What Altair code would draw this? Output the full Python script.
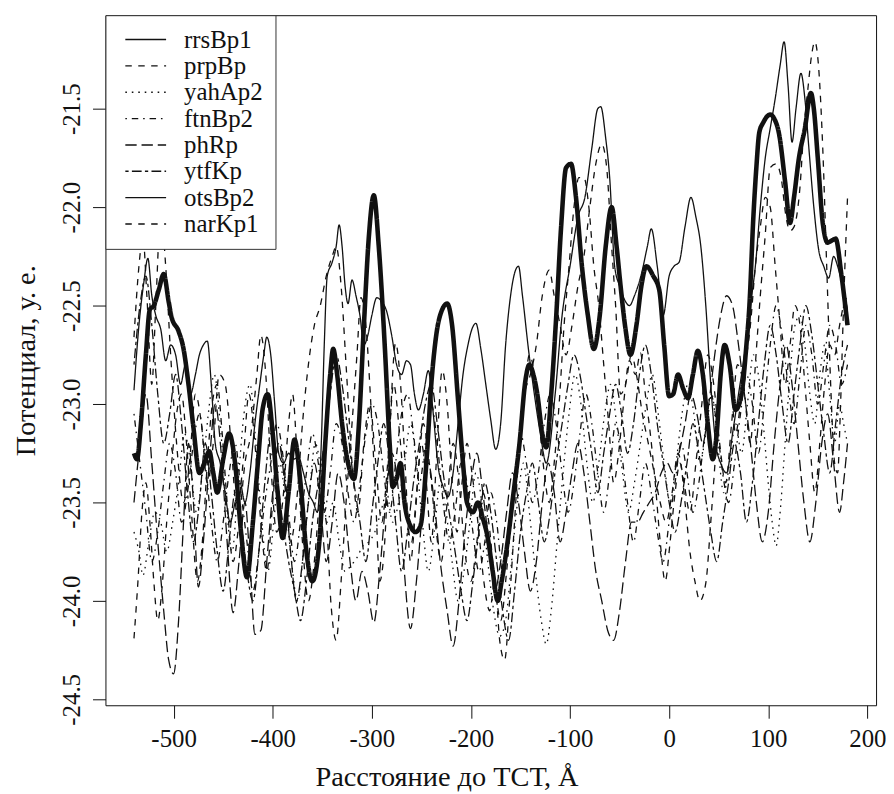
import altair as alt
import pandas as pd

series_names = ["rrsBp1", "prpBp", "yahAp2", "ftnBp2", "phRp", "ytfKp", "otsBp2", "narKp1"]
dash_styles = [[1, 0], [6.5, 6.5], [1.6, 4.9], [1.6, 4.9, 6.5, 4.9], [11.4, 4.9],
               [3.3, 3.3, 9.8, 3.3], [1, 0], [6.5, 6.5]]
thick_series = "otsBp2"

x_ticks = [-500, -400, -300, -200, -100, 0, 100, 200]
y_ticks = [-24.5, -24.0, -23.5, -23.0, -22.5, -22.0, -21.5]

rrsBp1 = [(-540,-22.93),(-535,-22.6),(-530,-22.38),(-526,-22.26),(-522,-22.45),(-518,-22.55),(-513,-22.62),
          (-508,-22.78),(-503,-22.7),(-498,-22.75),(-493,-22.9),(-488,-22.8),(-483,-22.95),(-478,-22.85),
          (-474,-22.75),(-470,-22.7),(-466,-22.68),(-462,-22.9),(-458,-23.2),(-453,-23.3),(-448,-23.45),
          (-443,-23.6),(-438,-23.5),(-433,-23.4),(-428,-23.5),(-423,-23.35),(-418,-23.1),(-413,-22.9),
          (-409,-22.75),(-406,-22.66),(-402,-22.75),(-398,-23.0),(-394,-23.25),(-389,-23.3),(-384,-23.25),
          (-379,-23.28),(-374,-23.27),(-369,-23.35),(-364,-23.45),(-359,-23.5),(-355,-23.55),(-351,-23.2),
          (-348,-22.7),(-345,-22.35),(-340,-22.28),(-336,-22.2),(-333,-22.09),(-330,-22.2),(-327,-22.4),
          (-324,-22.49),(-320,-22.37),(-316,-22.45),(-312,-22.55),(-308,-22.7),(-304,-22.65),(-300,-22.55),
          (-295,-22.46),(-290,-22.48),(-285,-22.53),(-280,-22.65),(-275,-22.8),(-270,-22.85),(-265,-22.78),
          (-261,-22.8),(-257,-22.95),(-253,-23.03),(-248,-22.95),(-243,-22.83),(-238,-23.05),(-233,-23.32),
          (-228,-23.42),(-223,-23.47),(-218,-23.35),(-213,-23.1),(-208,-22.85),(-203,-22.7),(-199,-22.62),
          (-195,-22.59),(-190,-22.72),(-185,-22.9),(-180,-23.08),(-175,-23.23),(-170,-23.1),(-165,-22.7),
          (-160,-22.45),(-155,-22.32),(-152,-22.3),(-148,-22.45),(-142,-22.72),(-136,-22.95),(-130,-23.15),
          (-124,-23.3),(-115,-22.95),(-108,-22.55),(-100,-22.3),(-92,-22.05),(-85,-21.95),(-78,-21.7),
          (-72,-21.5),(-69,-21.49),(-64,-21.65),(-60,-21.85),(-55,-22.3),(-50,-22.4),(-45,-22.47),
          (-40,-22.5),(-35,-22.45),(-28,-22.34),(-22,-22.2),(-18,-22.11),(-12,-22.3),(-6,-22.55),(0,-22.35),
          (5,-22.3),(10,-22.28),(16,-22.1),(22,-21.95),(27,-22.05),(32,-22.2),(37,-22.5),(42,-22.9),
          (47,-23.2),(52,-23.3),(58,-23.35),(64,-23.15),(70,-22.95),(76,-22.75),(82,-22.5),(87,-22.3),
          (92,-22.0),(97,-21.75),(102,-21.6),(107,-21.45),(112,-21.28),(116,-21.16),(120,-21.38),
          (124,-21.67),(128,-21.5),(133,-21.32),(137,-21.45),(141,-21.7),(146,-22.0),(151,-22.22),
          (156,-22.3),(161,-22.36),(166,-22.25),(170,-22.3),(175,-22.4),(180,-22.52)]

prpBp = [(-540,-24.19),(-536,-23.9),(-532,-23.55),(-528,-23.4),(-524,-23.6),(-520,-23.9),(-516,-24.1),
         (-512,-23.95),(-507,-23.6),(-502,-23.3),(-497,-23.05),(-492,-22.95),(-487,-23.2),(-482,-23.55),
         (-476,-23.9),(-471,-23.7),(-466,-23.3),(-461,-23.0),(-456,-22.9),(-451,-23.15),(-446,-23.5),
         (-440,-23.8),(-434,-23.6),(-428,-23.3),(-422,-23.15),(-416,-22.85),(-412,-22.65),(-407,-22.85),
         (-402,-23.3),(-396,-23.65),(-390,-23.5),(-384,-23.1),(-380,-22.95),(-375,-23.3),(-370,-23.7),
         (-364,-24.0),(-358,-23.8),(-352,-23.5),(-346,-23.6),(-341,-24.03),(-336,-24.2),(-331,-23.9),
         (-326,-23.5),(-320,-23.1),(-315,-22.75),(-311,-22.46),(-306,-22.6),(-301,-23.0),(-296,-23.5),
         (-292,-23.9),(-287,-23.7),(-282,-23.15),(-276,-22.69),(-271,-22.9),(-266,-23.35),(-261,-23.8),
         (-256,-23.55),(-250,-23.2),(-245,-23.4),(-240,-23.7),(-235,-23.3),(-229,-22.83),(-224,-23.0),
         (-219,-23.4),(-214,-23.65),(-209,-23.4),(-204,-23.2),(-199,-23.35),(-193,-23.6),(-187,-23.9),
         (-181,-24.05),(-176,-23.9),(-171,-24.2),(-166,-24.3),(-161,-24.0),(-156,-23.6),(-151,-23.2),
         (-146,-22.95),(-141,-22.75),(-136,-22.85),(-131,-23.1),(-126,-23.35),(-121,-23.5),(-116,-23.3),
         (-111,-23.0),(-106,-22.6),(-101,-22.3),(-96,-22.0),(-91,-21.85),(-86,-21.85),(-81,-22.0),
         (-76,-22.3),(-71,-22.5),(-66,-22.8),(-61,-23.1),(-56,-23.4),(-51,-23.25),(-46,-23.0),(-40,-22.78),
         (-34,-22.85),(-29,-22.74),(-24,-22.95),(-19,-23.15),(-14,-23.4),(-9,-23.7),(-4,-23.9),(1,-23.7),
         (6,-23.45),(11,-23.3),(16,-23.5),(21,-23.75),(26,-23.9),(31,-24.0),(37,-23.91),(42,-23.6),
         (47,-23.25),(52,-22.9),(57,-22.7),(62,-22.85),(67,-23.15),(72,-23.0),(77,-22.8),(82,-22.6),
         (87,-22.3),(92,-22.1),(97,-21.95),(102,-22.0),(107,-22.3),(112,-22.6),(117,-22.9),(122,-22.7),
         (127,-22.5),(132,-22.6),(137,-22.9),(142,-23.2),(147,-23.45),(152,-23.2),(157,-22.9),(162,-22.7),
         (167,-22.75),(172,-22.6),(176,-22.5),(180,-22.45)]

yahAp2 = [(-540,-23.65),(-535,-23.75),(-531,-23.87),(-525,-23.7),(-519,-23.55),(-513,-23.6),(-507,-23.75),
          (-501,-23.6),(-495,-23.4),(-489,-23.15),(-483,-23.3),(-477,-23.55),(-471,-23.35),(-465,-23.05),
          (-459,-22.85),(-453,-23.1),(-447,-23.5),(-441,-23.75),(-435,-23.4),(-429,-23.05),(-423,-22.9),
          (-417,-23.2),(-411,-23.6),(-405,-23.85),(-399,-23.6),(-393,-23.3),(-387,-23.5),(-381,-23.8),
          (-375,-24.0),(-369,-23.75),(-363,-23.45),(-357,-23.2),(-351,-23.35),(-345,-23.6),(-339,-23.5),
          (-333,-23.7),(-327,-23.85),(-321,-23.82),(-315,-23.78),(-309,-23.72),(-303,-23.7),(-297,-23.65),
          (-291,-23.55),(-285,-23.45),(-279,-23.6),(-273,-23.5),(-267,-23.3),(-261,-23.1),(-255,-23.3),
          (-249,-23.6),(-243,-23.85),(-237,-23.65),(-231,-23.4),(-225,-23.55),(-219,-23.8),(-213,-24.0),
          (-207,-23.85),(-201,-23.6),(-195,-23.35),(-189,-23.5),(-183,-23.8),(-177,-24.05),(-171,-24.18),
          (-165,-24.1),(-159,-23.8),(-153,-23.5),(-147,-23.3),(-141,-23.55),(-135,-23.85),(-129,-24.1),
          (-124,-24.22),(-119,-24.05),(-113,-23.7),(-107,-23.35),(-101,-23.05),(-95,-22.85),(-89,-23.0),
          (-83,-23.3),(-77,-23.5),(-71,-23.3),(-65,-23.05),(-59,-22.9),(-53,-23.1),(-47,-23.35),(-41,-23.55),
          (-35,-23.4),(-29,-23.2),(-23,-23.0),(-17,-22.85),(-11,-23.05),(-5,-23.3),(1,-23.5),(7,-23.3),
          (13,-23.05),(19,-22.9),(25,-23.05),(31,-23.3),(37,-23.15),(43,-22.95),(49,-23.2),(55,-23.45),
          (61,-23.3),(67,-23.1),(73,-23.25),(79,-23.0),(85,-22.75),(90,-22.85),(95,-23.1),(100,-23.4),
          (104,-23.6),(108,-23.72),(112,-23.55),(117,-23.2),(122,-22.85),(127,-22.6),(132,-22.55),
          (137,-22.7),(142,-22.95),(147,-23.1),(152,-22.85),(157,-22.7),(162,-22.95),(167,-23.2),
          (172,-23.0),(176,-23.1),(180,-23.2)]

ftnBp2 = [(-540,-23.05),(-534,-23.3),(-528,-23.55),(-522,-23.8),(-516,-23.65),(-510,-23.4),(-504,-23.2),
          (-498,-23.35),(-492,-23.6),(-486,-23.45),(-480,-23.2),(-474,-23.05),(-468,-23.3),(-462,-23.6),
          (-456,-23.8),(-450,-23.6),(-444,-23.35),(-438,-23.2),(-432,-23.45),(-426,-23.7),(-420,-23.95),
          (-414,-23.75),(-408,-23.5),(-402,-23.3),(-396,-23.1),(-390,-23.25),(-384,-23.55),(-378,-23.8),
          (-372,-23.6),(-366,-23.35),(-360,-23.15),(-354,-23.3),(-348,-23.55),(-342,-23.35),(-336,-23.1),
          (-330,-23.2),(-324,-23.45),(-318,-23.6),(-312,-23.4),(-306,-23.15),(-300,-23.0),(-294,-23.1),
          (-288,-23.35),(-282,-23.55),(-276,-23.3),(-270,-23.05),(-264,-22.95),(-258,-23.15),(-252,-23.4),
          (-246,-23.2),(-240,-23.0),(-234,-23.2),(-228,-23.5),(-222,-23.7),(-216,-23.55),(-210,-23.3),
          (-204,-23.4),(-198,-23.65),(-192,-23.85),(-186,-23.7),(-180,-23.45),(-174,-23.6),(-168,-23.85),
          (-162,-23.7),(-156,-23.4),(-150,-23.15),(-144,-23.3),(-138,-23.5),(-132,-23.35),(-126,-23.1),
          (-120,-22.95),(-114,-23.1),(-108,-23.35),(-102,-23.55),(-96,-23.4),(-90,-23.15),(-84,-22.95),
          (-78,-23.1),(-72,-23.35),(-66,-23.55),(-60,-23.35),(-54,-23.1),(-48,-23.25),(-42,-23.5),
          (-36,-23.7),(-30,-23.5),(-24,-23.3),(-18,-23.45),(-12,-23.65),(-6,-23.8),(0,-23.6),(6,-23.4),
          (12,-23.2),(18,-23.35),(24,-23.55),(30,-23.4),(36,-23.15),(42,-22.95),(48,-23.1),(54,-23.35),
          (60,-23.5),(66,-23.3),(72,-23.05),(78,-22.85),(84,-23.0),(90,-23.25),(96,-23.0),(102,-22.7),
          (108,-22.5),(114,-22.65),(120,-22.9),(126,-23.1),(132,-22.85),(138,-22.6),(144,-22.75),
          (150,-23.0),(156,-22.8),(162,-22.6),(168,-22.7),(174,-22.9),(180,-22.8)]

phRp = [(-540,-23.5),(-534,-23.2),(-528,-22.95),(-522,-23.3),(-516,-23.7),(-510,-24.05),(-505,-24.3),
        (-500,-24.37),(-495,-24.1),(-490,-23.6),(-485,-23.2),(-480,-23.5),(-475,-23.93),(-470,-23.7),
        (-464,-23.3),(-458,-23.0),(-452,-23.25),(-446,-23.7),(-440,-24.06),(-434,-23.8),(-428,-23.5),
        (-423,-23.8),(-418,-24.17),(-412,-24.15),(-406,-23.8),(-400,-23.45),(-394,-23.2),(-388,-23.4),
        (-382,-23.75),(-376,-24.0),(-370,-23.8),(-364,-23.5),(-358,-23.3),(-352,-23.5),(-346,-23.8),
        (-340,-23.6),(-334,-23.35),(-328,-23.5),(-322,-23.8),(-316,-24.0),(-310,-23.85),(-304,-23.95),
        (-298,-24.11),(-292,-23.85),(-286,-23.5),(-280,-23.25),(-274,-23.4),(-268,-23.8),(-261,-24.14),
        (-255,-23.9),(-249,-23.55),(-243,-23.3),(-237,-23.5),(-231,-23.8),(-224,-24.05),(-218,-24.23),
        (-212,-24.0),(-206,-23.65),(-200,-23.4),(-194,-23.25),(-188,-23.45),(-182,-23.7),(-176,-23.95),
        (-170,-23.8),(-164,-23.55),(-158,-23.35),(-152,-23.5),(-146,-23.75),(-140,-23.95),(-134,-23.8),
        (-128,-23.5),(-122,-23.3),(-116,-23.45),(-110,-23.7),(-104,-23.55),(-98,-23.35),(-92,-23.2),
        (-86,-23.35),(-80,-23.6),(-74,-23.85),(-68,-24.0),(-62,-24.15),(-56,-24.2),(-50,-24.05),
        (-44,-23.8),(-38,-23.6),(-32,-23.6),(-26,-23.55),(-20,-23.5),(-14,-23.45),(-8,-23.35),(-2,-23.3),
        (4,-23.35),(10,-23.25),(16,-23.1),(22,-22.95),(28,-23.05),(34,-23.2),(40,-23.0),(46,-22.75),
        (52,-22.55),(58,-22.45),(64,-22.5),(70,-22.7),(76,-22.95),(82,-23.2),(88,-23.5),(94,-23.7),
        (100,-23.55),(106,-23.2),(112,-22.9),(118,-22.7),(124,-22.9),(130,-23.2),(136,-23.5),(142,-23.7),
        (148,-23.5),(154,-23.2),(160,-23.05),(166,-23.3),(172,-23.55),(176,-23.4),(180,-23.2)]

ytfKp = [(-540,-22.8),(-534,-22.5),(-528,-22.35),(-522,-22.6),(-516,-22.95),(-510,-23.2),(-504,-23.05),
         (-498,-22.85),(-492,-23.1),(-486,-23.45),(-480,-23.7),(-474,-23.5),(-468,-23.2),(-462,-23.45),
         (-456,-23.75),(-450,-23.95),(-444,-23.7),(-438,-23.45),(-432,-23.6),(-426,-23.85),(-420,-24.0),
         (-414,-23.75),(-408,-23.4),(-402,-23.15),(-396,-23.35),(-390,-23.6),(-384,-23.8),(-378,-23.95),
         (-372,-24.1),(-366,-23.9),(-360,-23.6),(-354,-23.4),(-348,-23.2),(-342,-22.95),(-336,-22.75),
         (-330,-22.9),(-324,-23.15),(-318,-23.4),(-312,-23.6),(-306,-23.8),(-300,-23.55),(-294,-23.3),
         (-288,-23.1),(-282,-23.3),(-276,-23.6),(-270,-23.85),(-264,-23.65),(-258,-23.4),(-252,-23.2),
         (-246,-23.0),(-240,-22.9),(-234,-23.1),(-228,-23.35),(-222,-23.55),(-216,-23.75),(-210,-23.95),
         (-204,-24.1),(-198,-23.9),(-192,-23.65),(-186,-23.4),(-180,-23.55),(-174,-23.8),(-168,-24.05),
         (-162,-24.2),(-156,-23.95),(-150,-23.65),(-144,-23.45),(-138,-23.3),(-132,-23.5),(-126,-23.7),
         (-120,-23.55),(-114,-23.3),(-108,-23.1),(-102,-22.9),(-96,-22.75),(-90,-22.85),(-84,-23.05),
         (-78,-23.25),(-72,-23.45),(-66,-23.25),(-60,-23.05),(-54,-22.9),(-48,-23.05),(-42,-23.25),
         (-36,-23.1),(-30,-22.85),(-24,-22.7),(-18,-22.85),(-12,-23.1),(-6,-23.3),(0,-23.5),(6,-23.65),
         (12,-23.5),(18,-23.3),(24,-23.1),(30,-23.25),(36,-23.45),(42,-23.65),(48,-23.8),(54,-23.6),
         (60,-23.4),(66,-23.2),(72,-23.35),(78,-23.6),(84,-23.4),(90,-23.1),(96,-22.8),(102,-22.6),
         (108,-22.75),(114,-23.0),(120,-23.2),(126,-22.95),(132,-22.7),(138,-22.5),(144,-22.65),
         (150,-22.9),(156,-23.15),(162,-23.35),(168,-23.1),(174,-22.85),(180,-22.7)]

otsBp2 = [(-540,-23.25),(-537,-23.28),(-533,-23.1),(-528,-22.75),(-524,-22.52),(-520,-22.5),(-515,-22.42),
          (-510,-22.34),(-505,-22.48),(-502,-22.56),(-495,-22.63),(-490,-22.72),(-485,-22.9),(-480,-23.12),
          (-474,-23.35),(-469,-23.3),(-464,-23.24),(-460,-23.35),(-456,-23.45),(-450,-23.28),(-444,-23.15),
          (-438,-23.3),(-432,-23.65),(-426,-23.88),(-420,-23.6),(-415,-23.3),(-410,-23.02),(-405,-22.95),
          (-400,-23.15),(-395,-23.45),(-390,-23.68),(-384,-23.45),(-378,-23.18),(-372,-23.4),(-366,-23.75),
          (-360,-23.9),(-353,-23.7),(-347,-23.2),(-342,-22.85),(-339,-22.72),(-335,-22.85),(-330,-23.1),
          (-324,-23.3),(-318,-23.38),(-313,-23.1),(-308,-22.6),(-303,-22.15),(-298,-21.94),(-293,-22.2),
          (-287,-22.7),(-282,-23.2),(-279,-23.42),(-275,-23.38),(-271,-23.3),(-267,-23.5),(-261,-23.62),
          (-256,-23.65),(-251,-23.62),(-245,-23.3),(-240,-22.9),(-235,-22.65),(-229,-22.52),(-224,-22.49),
          (-219,-22.6),(-213,-22.98),(-208,-23.3),(-204,-23.5),(-198,-23.55),(-193,-23.5),(-188,-23.58),
          (-183,-23.68),(-178,-23.85),(-173,-24.0),(-169,-23.9),(-163,-23.7),(-157,-23.45),(-151,-23.2),
          (-145,-22.88),(-141,-22.8),(-137,-22.85),(-133,-22.95),(-128,-23.15),(-124,-23.22),(-119,-22.95),
          (-114,-22.56),(-109,-22.1),(-104,-21.8),(-99,-21.78),(-94,-21.95),(-88,-22.3),(-82,-22.55),
          (-76,-22.72),(-70,-22.55),(-64,-22.2),(-58,-22.0),(-53,-22.2),(-49,-22.4),(-44,-22.62),
          (-39,-22.75),(-33,-22.6),(-28,-22.4),(-23,-22.3),(-16,-22.35),(-10,-22.42),(-5,-22.7),(0,-22.96),
          (4,-22.95),(9,-22.85),(14,-22.92),(19,-22.97),(24,-22.85),(29,-22.73),(34,-22.85),(39,-23.1),
          (44,-23.28),(48,-23.15),(52,-22.85),(56,-22.7),(61,-22.8),(67,-23.03),(73,-22.95),(78,-22.7),
          (81,-22.5),(85,-22.05),(88,-21.8),(91,-21.62),(95,-21.57),(102,-21.53),(106,-21.55),(111,-21.63),
          (117,-21.87),(122,-22.08),(126,-21.95),(131,-21.75),(137,-21.6),(143,-21.42),(146,-21.5),
          (150,-21.75),(155,-22.08),(160,-22.18),(164,-22.17),(168,-22.16),(174,-22.35),(180,-22.6)]

narKp1 = [(-540,-22.66),(-535,-22.3),(-531,-22.15),(-527,-22.45),(-522,-22.9),(-518,-22.5),(-513,-22.03),
          (-508,-22.3),(-503,-22.75),(-497,-23.2),(-490,-23.5),(-484,-23.3),(-478,-22.95),(-472,-23.1),
          (-466,-23.4),(-460,-23.2),(-454,-22.85),(-448,-22.9),(-442,-23.2),(-436,-23.55),(-430,-23.3),
          (-424,-22.95),(-418,-23.2),(-412,-23.6),(-406,-23.85),(-400,-23.5),(-394,-23.2),(-388,-23.35),
          (-382,-23.7),(-376,-23.5),(-370,-23.1),(-364,-22.8),(-358,-22.6),(-352,-22.5),(-346,-22.35),
          (-340,-22.25),(-336,-22.2),(-331,-22.4),(-326,-22.8),(-320,-23.3),(-314,-23.55),(-308,-23.2),
          (-302,-23.0),(-296,-23.3),(-290,-23.6),(-284,-23.3),(-278,-22.9),(-272,-23.15),(-266,-23.5),
          (-260,-23.7),(-254,-23.4),(-248,-23.1),(-242,-23.3),(-236,-23.6),(-230,-23.8),(-224,-23.5),
          (-218,-23.2),(-212,-23.4),(-206,-23.75),(-200,-23.9),(-194,-23.7),(-188,-23.45),(-182,-23.6),
          (-176,-23.9),(-170,-24.1),(-164,-23.85),(-158,-23.5),(-152,-23.2),(-146,-22.95),(-140,-22.85),
          (-134,-22.7),(-128,-22.45),(-121,-22.32),(-116,-22.45),(-110,-22.6),(-104,-22.75),(-98,-22.6),
          (-92,-22.4),(-86,-22.25),(-80,-22.0),(-74,-21.78),(-68,-21.68),(-63,-21.8),(-58,-22.2),
          (-54,-22.5),(-49,-22.95),(-44,-22.9),(-38,-22.75),(-33,-22.85),(-27,-23.05),(-21,-23.2),
          (-15,-23.35),(-9,-23.5),(-3,-23.6),(3,-23.45),(9,-23.25),(15,-23.4),(21,-23.55),(27,-23.3),
          (33,-23.0),(39,-22.75),(45,-22.9),(51,-23.2),(57,-23.4),(63,-23.1),(69,-22.8),(75,-22.9),
          (82,-23.2),(87,-22.8),(92,-22.45),(97,-22.14),(102,-21.8),(108,-21.78),(113,-21.85),(118,-22.05),
          (122,-22.12),(126,-22.1),(132,-21.9),(136,-21.6),(140,-21.4),(144,-21.22),(147,-21.16),
          (151,-21.3),(155,-21.7),(159,-22.3),(163,-22.9),(167,-23.3),(170,-23.35),(173,-23.0),
          (176,-22.5),(180,-21.95)]

series_points = [rrsBp1, prpBp, yahAp2, ftnBp2, phRp, ytfKp, otsBp2, narKp1]

rows = []
for name, pts in zip(series_names, series_points):
    for px, py in pts:
        rows.append({"series": name, "x": px, "y": py})
df = pd.DataFrame(rows)

FONT = "Liberation Serif"
INK = "#111111"

x_enc = alt.X("x:Q",
              scale=alt.Scale(domain=[-568.8, 208.8], nice=False, zero=False),
              axis=alt.Axis(values=x_ticks, title="Расстояние до ТСТ, Å",
                            labelExpr="replace(datum.label, '\u2212', '-')",
                            tickSize=13, labelPadding=8, titlePadding=12, titleX=343,
                            labelFlush=False, labelOverlap=False))
y_enc = alt.Y("y:Q",
              scale=alt.Scale(domain=[-24.53, -21.025], nice=False, zero=False),
              axis=alt.Axis(values=y_ticks, format=".1f", title="Потенциал, у. е.",
                            labelExpr="replace(datum.label, '\u2212', '-')",
                            labelAngle=270, labelAlign="center", labelBaseline="alphabetic",
                            tickSize=13, labelPadding=13, titlePadding=19,
                            labelFlush=False, labelOverlap=False))
dash_enc = alt.StrokeDash("series:N",
                          scale=alt.Scale(domain=series_names, range=dash_styles),
                          legend=alt.Legend(orient="top-left", offset=0, title=None,
                                            symbolType="stroke", symbolSize=1681,
                                            symbolStrokeWidth=1.4, symbolStrokeColor=INK,
                                            labelFont=FONT, labelFontSize=25, labelColor=INK,
                                            strokeColor="#333333", fillColor="white",
                                            padding=12, rowPadding=0.5, labelOffset=17,
                                            symbolOffset=7, labelLimit=0, cornerRadius=0,
                                            clipHeight=25))

base = alt.Chart(df).encode(x=x_enc, y=y_enc, strokeDash=dash_enc)

thin = base.transform_filter(
    alt.datum.series != thick_series
).mark_line(color=INK, strokeWidth=1.3, interpolate="monotone", strokeJoin="round")

thick = base.transform_filter(
    alt.datum.series == thick_series
).mark_line(color=INK, strokeWidth=4.6, interpolate="monotone", strokeJoin="round")

chart = alt.layer(thin, thick).properties(
    width=775, height=694,
    autosize=alt.AutoSizeParams(type="none"),
    padding={"left": 98, "top": 5, "right": 10, "bottom": 87},
    background="white",
).configure_view(
    stroke=INK, strokeWidth=1
).configure_axis(
    domain=False, grid=False, tickColor=INK, tickWidth=1,
    labelFont=FONT, labelFontSize=25, labelColor=INK,
    titleFont=FONT, titleFontSize=28.5, titleColor=INK, titleFontWeight="normal",
)

chart.save("out.html", embed_options={"renderer": "svg", "actions": False})
